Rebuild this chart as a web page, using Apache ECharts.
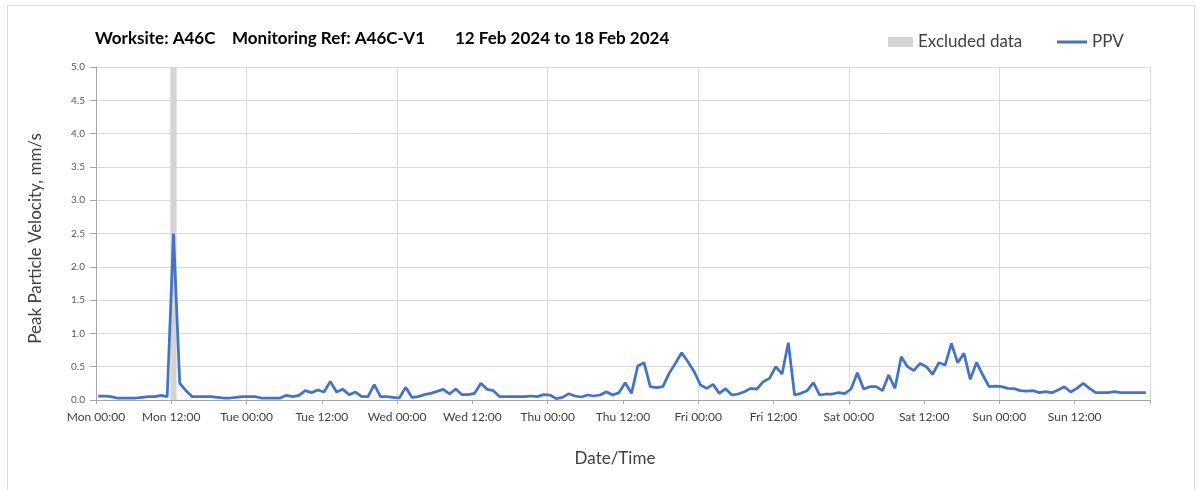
<!DOCTYPE html>
<html>
<head>
<meta charset="utf-8">
<script src="https://cdn.jsdelivr.net/npm/echarts@6/dist/echarts.min.js"></script>
<style>html,body{margin:0;padding:0;background:#fff}#c{width:1203px;height:490px}</style>
</head>
<body>
<div id="c"></div>
<script>
// ---- data ----
const titleParts = ['Worksite: A46C', 'Monitoring Ref: A46C-V1', '12 Feb 2024 to 18 Feb 2024'];
const xTickLabels = ['Mon 00:00','Mon 12:00','Tue 00:00','Tue 12:00','Wed 00:00','Wed 12:00','Thu 00:00','Thu 12:00','Fri 00:00','Fri 12:00','Sat 00:00','Sat 12:00','Sun 00:00','Sun 12:00'];
const firstSampleHour = 0.35;   // hours after Mon 00:00 of first hourly sample
const ppv = [
  0.06,0.06,0.05,0.03,0.03,0.03,0.03,0.04,0.05,0.05,0.07,0.05,
  2.50,0.25,0.14,0.05,0.05,0.05,0.05,0.04,0.03,0.03,0.04,0.05,
  0.05,0.05,0.03,0.03,0.03,0.03,0.07,0.05,0.07,0.14,0.11,0.15,
  0.12,0.28,0.12,0.16,0.08,0.12,0.05,0.05,0.23,0.05,0.05,0.04,
  0.03,0.19,0.04,0.05,0.08,0.10,0.13,0.16,0.09,0.165,0.08,0.08,
  0.10,0.25,0.16,0.14,0.05,0.05,0.05,0.05,0.05,0.06,0.05,0.08,
  0.075,0.02,0.04,0.095,0.06,0.045,0.075,0.06,0.075,0.125,0.075,0.11,
  0.26,0.10,0.51,0.56,0.20,0.185,0.20,0.40,0.55,0.71,0.575,0.425,
  0.225,0.175,0.235,0.10,0.17,0.075,0.09,0.125,0.175,0.165,0.275,0.325,
  0.50,0.39,0.86,0.075,0.10,0.14,0.26,0.075,0.09,0.09,0.11,0.095,
  0.165,0.41,0.165,0.20,0.20,0.14,0.375,0.175,0.65,0.50,0.44,0.55,
  0.50,0.385,0.56,0.525,0.85,0.56,0.70,0.31,0.565,0.375,0.20,0.21,
  0.20,0.175,0.17,0.14,0.135,0.14,0.11,0.125,0.11,0.15,0.20,0.12,
  0.175,0.25,0.175,0.11,0.11,0.11,0.125,0.11,0.11,0.11,0.11,0.11
];
const excludedRanges = [[11.85, 12.85]]; // hours after Mon 00:00
const yMax = 5.0;

// ---- chart ----
const FONT = 'Lato';
const ppvData = ppv.map((v, i) => [firstSampleHour + i, v]);
const chart = echarts.init(document.getElementById('c'), null, {renderer: 'canvas'});
chart.setOption({
  animation: false,
  textStyle: {fontFamily: FONT},
  grid: {left: 96, right: 53, top: 67, bottom: 90},
  graphic: [
    {type: 'rect', shape: {x: 7.5, y: 5.5, width: 1187, height: 500}, style: {fill: 'none', stroke: '#d9d9d9', lineWidth: 1}, silent: true},
    {type: 'text', left: 95, top: 30, style: {text: titleParts[0], font: 'bold 17px ' + FONT, fill: '#000'}},
    {type: 'text', left: 232, top: 30, style: {text: titleParts[1], font: 'bold 17px ' + FONT, fill: '#000'}},
    {type: 'text', left: 455, top: 30, style: {text: titleParts[2], font: 'bold 17px ' + FONT, fill: '#000'}}
  ],
  legend: [
    {
      left: 888, top: 33, padding: 0,
      itemWidth: 25, itemHeight: 10,
      textStyle: {fontSize: 17, color: '#404040', fontFamily: FONT, lineHeight: 18},
      data: [{name: 'Excluded data', icon: 'rect'}]
    },
    {
      left: 1057, top: 33, padding: 0,
      itemWidth: 30, itemHeight: 3,
      textStyle: {fontSize: 17, color: '#404040', fontFamily: FONT, lineHeight: 18},
      data: [{name: 'PPV', icon: 'rect'}]
    }
  ],
  xAxis: [
    {
      type: 'value', min: 0, max: 168, interval: 12,
      name: 'Date/Time', nameLocation: 'middle', nameGap: 50,
      nameTextStyle: {fontSize: 17, color: '#404040', fontFamily: FONT, padding: [0, 16, 0, 0]},
      axisLine: {show: true, lineStyle: {color: '#a6a6a6', width: 1}},
      axisTick: {show: true, length: 4, lineStyle: {color: '#a6a6a6'}},
      axisLabel: {fontSize: 12, color: '#404040', margin: 11, fontFamily: FONT,
        formatter: v => xTickLabels[Math.round(v / 12)] || ''},
      splitLine: {show: false}
    },
    {
      type: 'value', min: 0, max: 168, interval: 24, position: 'bottom',
      axisLine: {show: false}, axisTick: {show: false}, axisLabel: {show: false},
      splitLine: {show: true, lineStyle: {color: '#d9d9d9', width: 1}}
    }
  ],
  yAxis: {
    type: 'value', min: 0, max: yMax, interval: 0.5,
    name: 'Peak Particle Velocity, mm/s', nameLocation: 'middle', nameGap: 52, nameRotate: 90,
    nameTextStyle: {fontSize: 17, color: '#404040', fontFamily: FONT, padding: [0, 10, 0, 0]},
    axisLine: {show: true, lineStyle: {color: '#a6a6a6', width: 1}},
    axisTick: {show: true, length: 6, lineStyle: {color: '#a6a6a6'}},
    axisLabel: {fontSize: 10, color: '#595959', margin: 11, fontFamily: FONT,
      formatter: v => v.toFixed(1)},
    splitLine: {show: true, lineStyle: {color: '#d9d9d9', width: 1}}
  },
  series: [
    {
      name: 'Excluded data', type: 'custom', xAxisIndex: 0,
      itemStyle: {color: '#d4d4d4'},
      data: excludedRanges,
      renderItem: (params, api) => {
        const p0 = api.coord([api.value(0), yMax]);
        const p1 = api.coord([api.value(1), 0]);
        return {type: 'rect', shape: {x: p0[0], y: p0[1], width: p1[0] - p0[0], height: p1[1] - p0[1]},
          style: {fill: '#d4d4d4'}};
      },
      z: 1
    },
    {
      name: 'PPV', type: 'line', xAxisIndex: 0,
      data: ppvData, symbol: 'none', showSymbol: false,
      lineStyle: {color: '#4472c4', width: 2.75},
      itemStyle: {color: '#4472c4'},
      z: 3
    }
  ]
});
</script>
</body>
</html>
